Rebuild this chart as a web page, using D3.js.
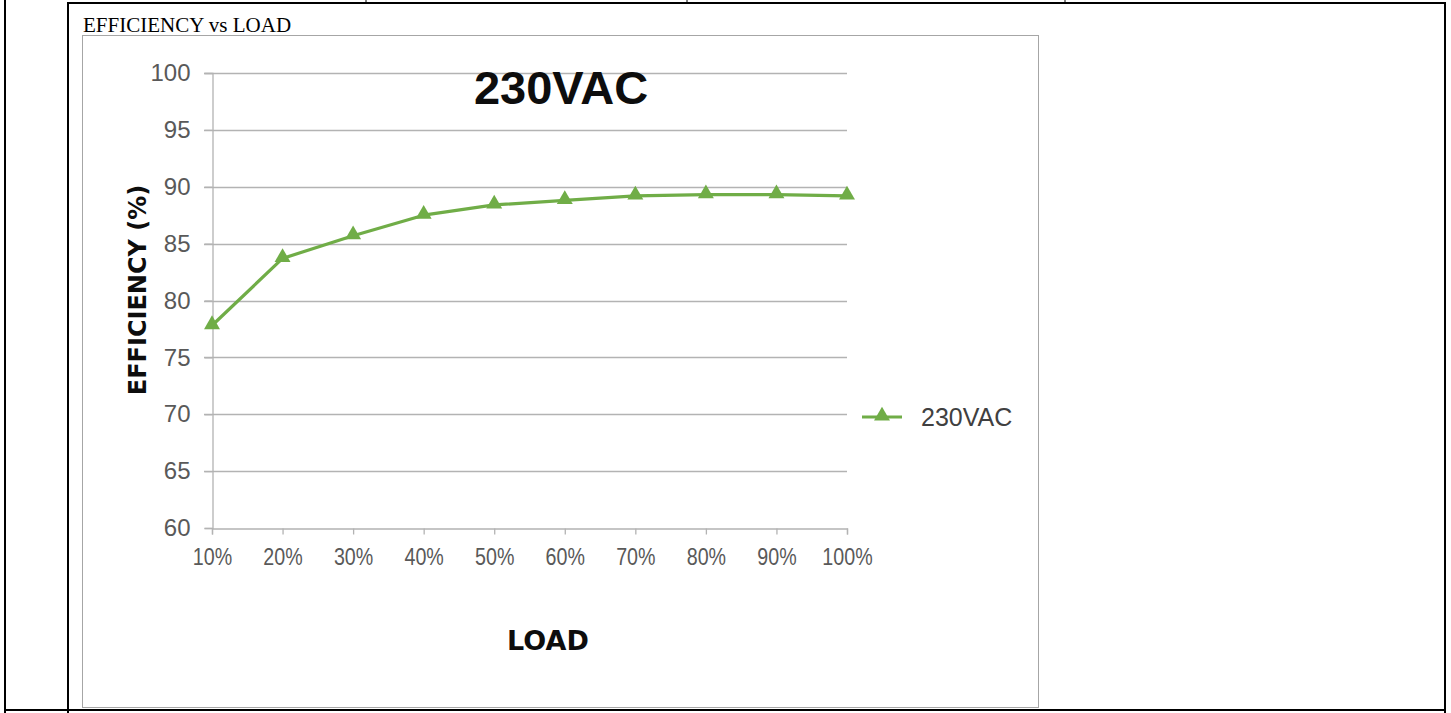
<!DOCTYPE html>
<html>
<head>
<meta charset="utf-8">
<script src="https://cdn.jsdelivr.net/npm/d3@7"></script>
<style>
  html, body { margin: 0; padding: 0; background: #fff; }
  svg { display: block; }
</style>
</head>
<body>
<svg id="page" width="1451" height="713"></svg>
<script>
// Efficiency measured at each load step, 230 VAC input
const loads = ["10%", "20%", "30%", "40%", "50%", "60%", "70%", "80%", "90%", "100%"];
const efficiency = [77.8, 83.7, 85.7, 87.5, 88.4, 88.8, 89.2, 89.3, 89.3, 89.2];
const yTicks = [60, 65, 70, 75, 80, 85, 90, 95, 100];
const seriesName = "230VAC";

const svg = d3.select("#page");

// Document table borders around the chart
const border = svg.append("g").attr("stroke", "#000").attr("fill", "none");
border.append("line").attr("x1", 5).attr("x2", 5).attr("y1", 0).attr("y2", 713).attr("stroke-width", 2);
border.append("line").attr("x1", 68).attr("x2", 68).attr("y1", 2).attr("y2", 713).attr("stroke-width", 2);
border.append("line").attr("x1", 1445).attr("x2", 1445).attr("y1", 2).attr("y2", 713).attr("stroke-width", 2);
border.append("line").attr("x1", 67).attr("x2", 1446).attr("y1", 3).attr("y2", 3).attr("stroke-width", 2);
border.append("line").attr("x1", 4).attr("x2", 1446).attr("y1", 710).attr("y2", 710).attr("stroke-width", 2);
[366, 687, 1065].forEach(x => {
  border.append("line").attr("x1", x).attr("x2", x).attr("y1", 0).attr("y2", 3).attr("stroke-width", 1);
});

// Caption above the chart
svg.append("text")
  .attr("x", 83).attr("y", 32)
  .attr("font-family", "'Liberation Serif', 'Times New Roman', serif")
  .attr("font-size", 21).attr("fill", "#000")
  .text("EFFICIENCY vs LOAD");

// Chart frame
svg.append("rect")
  .attr("x", 82.5).attr("y", 35.5).attr("width", 956).attr("height", 672)
  .attr("fill", "#fff").attr("stroke", "#a6a6a6").attr("stroke-width", 1);

// Plot geometry
const plot = { left: 212, right: 847, top: 73, bottom: 528 };

const x = d3.scalePoint().domain(loads).range([plot.left, plot.right]);
const y = d3.scaleLinear().domain([60, 100]).range([plot.bottom, plot.top]);

const g = svg.append("g");

// Horizontal gridlines
g.append("g")
  .selectAll("line")
  .data(yTicks.filter(t => t > 60))
  .join("line")
  .attr("x1", plot.left - 8).attr("x2", plot.right)
  .attr("y1", d => Math.round(y(d)) + 0.5).attr("y2", d => Math.round(y(d)) + 0.5)
  .attr("stroke", "#b3b3b3").attr("stroke-width", 1.3);

// Y axis
const yAxis = g.append("g")
  .attr("transform", `translate(${plot.left + 0.5},0)`)
  .call(d3.axisLeft(y).tickValues(yTicks).tickSize(8).tickPadding(14));
yAxis.select(".domain").attr("stroke", "#b3b3b3").attr("stroke-width", 1.3);
yAxis.selectAll(".tick line").attr("stroke", "#b3b3b3").attr("stroke-width", 1.3);
yAxis.selectAll(".tick text")
  .attr("font-family", "'Liberation Sans', Arial, sans-serif")
  .attr("font-size", 24).attr("fill", "#595959");

// X axis (labels drawn slightly condensed)
const xAxis = g.append("g")
  .attr("transform", `translate(0,${Math.round(plot.bottom) + 0.5})`)
  .call(d3.axisBottom(x).tickSize(6).tickPadding(8));
xAxis.select(".domain").attr("stroke", "#b3b3b3").attr("stroke-width", 1.3);
xAxis.selectAll(".tick line").attr("stroke", "#b3b3b3").attr("stroke-width", 1.3);
xAxis.selectAll(".tick text")
  .attr("font-family", "'Liberation Sans', Arial, sans-serif")
  .attr("font-size", 24).attr("fill", "#595959")
  .attr("y", 17)
  .attr("dy", "0.8em")
  .attr("transform", "scale(0.82,1)");

// Series line
const green = "#70ad47";
const pts = loads.map((l, i) => [x(l), y(efficiency[i])]);
g.append("path")
  .attr("d", d3.line()(pts))
  .attr("fill", "none").attr("stroke", green)
  .attr("stroke-width", 3.2).attr("stroke-linejoin", "round");

// Triangle markers
const tri = d3.symbol().type(d3.symbolTriangle).size(110);
g.append("g")
  .selectAll("path")
  .data(pts)
  .join("path")
  .attr("d", tri)
  .attr("transform", d => `translate(${d[0]},${d[1] - 1})`)
  .attr("fill", green);

// Chart title
svg.append("text")
  .attr("x", 561).attr("y", 104)
  .attr("text-anchor", "middle")
  .attr("font-family", "'Liberation Sans', Arial, sans-serif")
  .attr("font-weight", "bold").attr("font-size", 47).attr("fill", "#0d0d0d")
  .text("230VAC");

// Axis titles
svg.append("text")
  .attr("transform", "translate(146,290) rotate(-90)")
  .attr("text-anchor", "middle")
  .attr("font-family", "'DejaVu Sans', sans-serif")
  .attr("font-weight", "bold").attr("font-size", 24).attr("fill", "#0d0d0d")
  .text("EFFICIENCY (%)");

svg.append("text")
  .attr("x", 548).attr("y", 650)
  .attr("text-anchor", "middle")
  .attr("font-family", "'DejaVu Sans', sans-serif")
  .attr("font-weight", "bold").attr("font-size", 27).attr("fill", "#0d0d0d")
  .text("LOAD");

// Legend
const legend = svg.append("g").attr("transform", "translate(862,417)");
legend.append("line").attr("x1", 0).attr("x2", 40).attr("y1", 0).attr("y2", 0)
  .attr("stroke", green).attr("stroke-width", 3.2);
legend.append("path").attr("d", tri).attr("transform", "translate(20,-1)").attr("fill", green);
legend.append("text")
  .attr("x", 59).attr("y", 9)
  .attr("font-family", "'Liberation Sans', Arial, sans-serif")
  .attr("font-size", 25).attr("fill", "#404040")
  .text(seriesName);
</script>
</body>
</html>
